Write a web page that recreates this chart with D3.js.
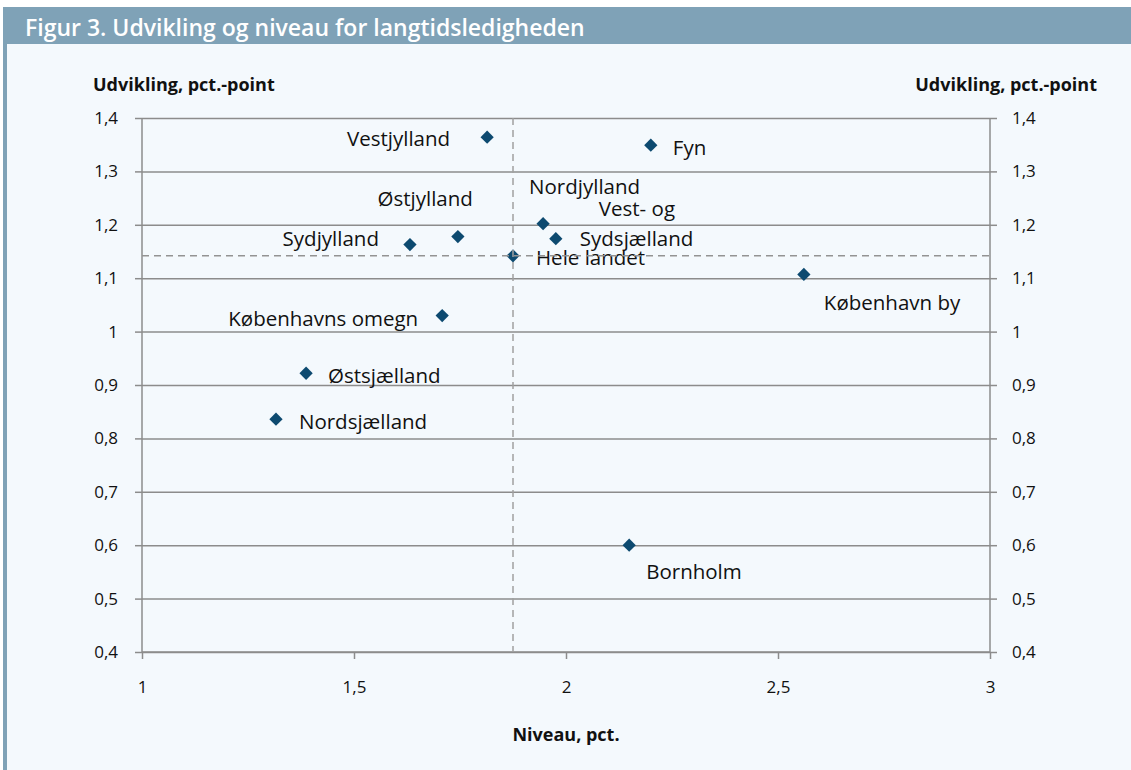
<!DOCTYPE html>
<html>
<head>
<meta charset="utf-8">
<script src="https://cdn.jsdelivr.net/npm/d3@7/dist/d3.min.js"></script>
<style>
  html, body { margin: 0; padding: 0; background: #ffffff; }
  svg { display: block; }
</style>
</head>
<body>
<svg id="chart" width="1131" height="770"></svg>
<script>
// ---- Data ----
const regions = ["Vestjylland", "Fyn", "Nordjylland", "Vest- og Sydsjælland", "Østjylland", "Sydjylland",
                 "Hele landet", "København by", "Københavns omegn", "Østsjælland", "Nordsjælland", "Bornholm"];
const niveau   = [1.814, 2.200, 1.946, 1.976, 1.745, 1.632, 1.875, 2.561, 1.708, 1.387, 1.316, 2.149];
const udvikling = [1.364, 1.349, 1.202, 1.174, 1.178, 1.163, 1.142, 1.107, 1.030, 0.922, 0.836, 0.600];
const xTicks = [1, 1.5, 2, 2.5, 3];
const yTicks = [0.4, 0.5, 0.6, 0.7, 0.8, 0.9, 1.0, 1.1, 1.2, 1.3, 1.4];
const refX = 1.875; // Hele landet niveau
const refY = 1.142; // Hele landet udvikling
const titleText = "Figur 3. Udvikling og niveau for langtidsledigheden";
const yTitle = "Udvikling, pct.-point";
const xTitle = "Niveau, pct.";

// label placement (offsets in px relative to the point, and anchor)
const labelPos = {
  "Vestjylland": {dx: -37, dy: 3, anchor: "end"},
  "Fyn": {dx: 22, dy: 4, anchor: "start"},
  "Nordjylland": {dx: -14, dy: -35, anchor: "start"},
  "Vest- og Sydsjælland": {dx: 24, dy: 2, anchor: "start", lines: ["Vest- og", "Sydsjælland"]},
  "Østjylland": {dx: 15, dy: -36, anchor: "end"},
  "Sydjylland": {dx: -31, dy: -4, anchor: "end"},
  "Hele landet": {dx: 23, dy: 4, anchor: "start"},
  "København by": {dx: 20, dy: 30, anchor: "start"},
  "Københavns omegn": {dx: -24, dy: 5, anchor: "end"},
  "Østsjælland": {dx: 22, dy: 4, anchor: "start"},
  "Nordsjælland": {dx: 23, dy: 4, anchor: "start"},
  "Bornholm": {dx: 17, dy: 28, anchor: "start"}
};

const points = regions.map((r, i) => ({name: r, x: niveau[i], y: udvikling[i]}));

// ---- Layout ----
const W = 1131, H = 770;
const svg = d3.select("#chart");
const bg = "#f4f9fd";
const frame = "#7fa2b7";
const gridColor = "#8c8c8c";
const pointColor = "#0d4a70";
const labelFont = "'Open Sans', sans-serif";
const boldFont = "'Open Sans', sans-serif";

svg.append("rect").attr("x", 0).attr("y", 0).attr("width", W).attr("height", H).attr("fill", "#ffffff");
svg.append("rect").attr("x", 3).attr("y", 7).attr("width", W - 3).attr("height", H - 7).attr("fill", bg);
svg.append("rect").attr("x", 3).attr("y", 7).attr("width", W - 3).attr("height", 37).attr("fill", frame);
svg.append("rect").attr("x", 3).attr("y", 7).attr("width", 4).attr("height", H - 7).attr("fill", frame);

svg.append("text").attr("x", 25).attr("y", 36)
  .attr("font-family", boldFont).attr("font-weight", 600).attr("font-size", 23)
  .attr("fill", "#ffffff").text(titleText);

const x = d3.scaleLinear().domain([1, 3]).range([142, 990]);
const y = d3.scaleLinear().domain([0.4, 1.4]).range([652, 118]);

// gridlines
svg.append("g")
  .attr("transform", `translate(${x(1)},0)`)
  .call(d3.axisLeft(y).tickValues(yTicks).tickSize(-(x(3) - x(1))).tickFormat(""))
  .call(a => a.select(".domain").remove())
  .call(a => a.selectAll("line").attr("stroke", gridColor).attr("stroke-width", 1.5));

// left axis
const fmt = d => d3.format(".1f")(d).replace(".", ",").replace(/^(\d),0$/, "$1");
const left = svg.append("g").attr("transform", `translate(${x(1)},0)`)
  .call(d3.axisLeft(y).tickValues(yTicks).tickSize(7).tickPadding(17).tickFormat(fmt));
left.select(".domain").attr("stroke", gridColor).attr("stroke-width", 1.5).attr("d", `M0,${y(1.4)}V${y(0.4)}`);
left.selectAll("line").attr("stroke", gridColor).attr("stroke-width", 1.5);
left.selectAll("text").attr("font-family", labelFont).attr("font-size", 17).attr("fill", "#111");

// right axis
const right = svg.append("g").attr("transform", `translate(${x(3)},0)`)
  .call(d3.axisRight(y).tickValues(yTicks).tickSize(7).tickPadding(15).tickFormat(fmt));
right.select(".domain").attr("stroke", gridColor).attr("stroke-width", 1.5).attr("d", `M0,${y(1.4)}V${y(0.4)}`);
right.selectAll("line").attr("stroke", gridColor).attr("stroke-width", 1.5);
right.selectAll("text").attr("font-family", labelFont).attr("font-size", 17).attr("fill", "#111");

// bottom axis
const bottom = svg.append("g").attr("transform", `translate(0,${y(0.4)})`)
  .call(d3.axisBottom(x).tickValues(xTicks).tickSize(7).tickPadding(22).tickFormat(fmt));
bottom.select(".domain").attr("stroke", gridColor).attr("stroke-width", 1.5).attr("d", `M${x(1)},0H${x(3)}`);
bottom.selectAll("line").attr("stroke", gridColor).attr("stroke-width", 1.5);
bottom.selectAll("text").attr("font-family", labelFont).attr("font-size", 17).attr("fill", "#111");

// axis titles
svg.append("text").attr("x", 93).attr("y", 91)
  .attr("font-family", boldFont).attr("font-weight", 700).attr("font-size", 18)
  .attr("fill", "#111").text(yTitle);
svg.append("text").attr("x", 1097).attr("y", 91).attr("text-anchor", "end")
  .attr("font-family", boldFont).attr("font-weight", 700).attr("font-size", 18)
  .attr("fill", "#111").text(yTitle);
svg.append("text").attr("x", x(2)).attr("y", 741).attr("text-anchor", "middle")
  .attr("font-family", boldFont).attr("font-weight", 700).attr("font-size", 18)
  .attr("fill", "#111").text(xTitle);

// points
const sym = d3.symbol().type(d3.symbolSquare).size(88);
svg.append("g").selectAll("path").data(points).join("path")
  .attr("d", sym)
  .attr("transform", d => `translate(${x(d.x)},${y(d.y)}) rotate(45)`)
  .attr("fill", pointColor);

// labels
const lg = svg.append("g");
points.forEach(p => {
  const lp = labelPos[p.name];
  const lines = lp.lines || [p.name];
  const bx = x(p.x) + lp.dx, by = y(p.y) + lp.dy;
  if (lines.length === 1) {
    lg.append("text").attr("x", bx).attr("y", by).attr("text-anchor", lp.anchor)
      .attr("font-family", labelFont).attr("font-size", 20.5).attr("fill", "#111")
      .attr("dominant-baseline", "middle").text(lines[0]);
  } else {
    lg.append("text").attr("x", bx + 19).attr("y", by - 30).attr("text-anchor", lp.anchor)
      .attr("font-family", labelFont).attr("font-size", 20.5).attr("fill", "#111")
      .attr("dominant-baseline", "middle").text(lines[0]);
    lg.append("text").attr("x", bx).attr("y", by).attr("text-anchor", lp.anchor)
      .attr("font-family", labelFont).attr("font-size", 20.5).attr("fill", "#111")
      .attr("dominant-baseline", "middle").text(lines[1]);
  }
});

// reference dashed lines (drawn on top)
svg.append("line").attr("x1", x(1)).attr("x2", x(3)).attr("y1", y(refY)).attr("y2", y(refY))
  .attr("stroke", "#939393").attr("stroke-width", 1.5).attr("stroke-dasharray", "7,5");
svg.append("line").attr("x1", x(refX)).attr("x2", x(refX)).attr("y1", y(1.4)).attr("y2", y(0.4))
  .attr("stroke", "#a0a0a0").attr("stroke-width", 1.5).attr("stroke-dasharray", "7,5");
</script>
</body>
</html>
